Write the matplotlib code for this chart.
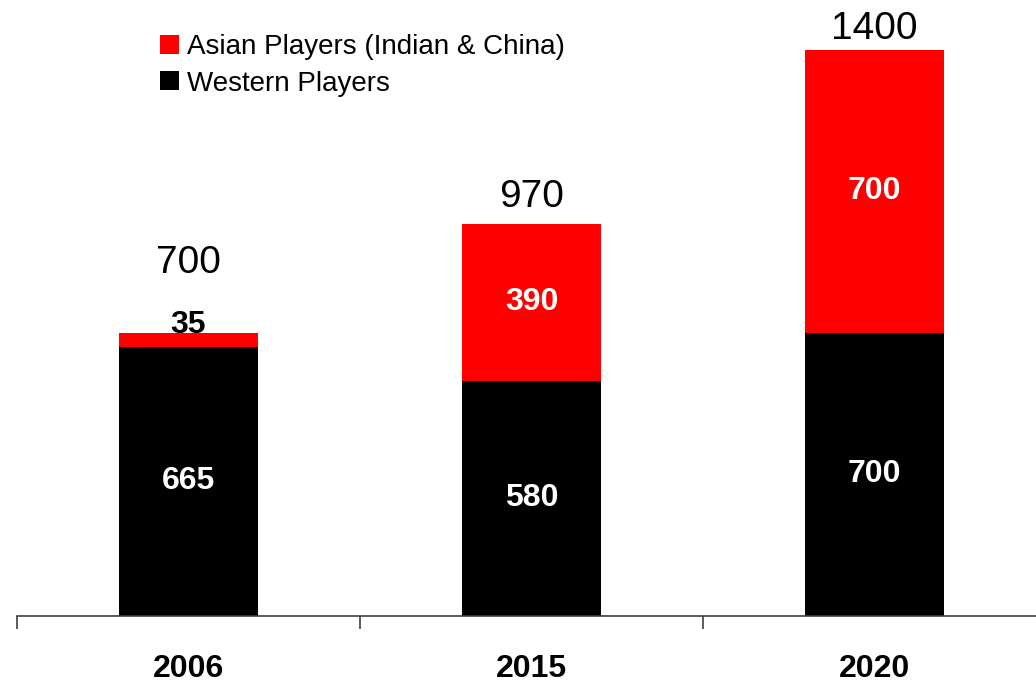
import matplotlib
matplotlib.use("Agg")
import matplotlib.pyplot as plt
from matplotlib.patches import Patch
import numpy as np

years = ["2006", "2015", "2020"]
western = [665, 580, 700]
asian = [35, 390, 700]
totals = [700, 970, 1400]
series_labels = ["Asian Players (Indian & China)", "Western Players"]

RED = "#ff0000"
BLACK = "#000000"
AXIS = "#404040"

plt.rcParams["font.family"] = ["Liberation Sans", "DejaVu Sans"]

fig = plt.figure(figsize=(10.36, 6.83), dpi=100)
ax = fig.add_axes([17 / 1036, 67.5 / 683, 1029 / 1036, 565.5 / 683])

x = np.arange(len(years))
w = 0.405
ax.bar(x, western, w, color=BLACK, zorder=2)
ax.bar(x, asian, w, bottom=western, color=RED, zorder=2)

# segment labels
for xi, wv, av in zip(x, western, asian):
    ax.text(xi, wv / 2, str(wv), ha="center", va="center", color="white",
            fontsize=23, fontweight="bold", zorder=3)
    if av < 100:
        ax.text(xi, wv + av + 20, str(av), ha="center", va="center",
                color="black", fontsize=23, fontweight="bold", zorder=3)
    else:
        ax.text(xi, wv + av / 2, str(av), ha="center", va="center",
                color="white", fontsize=23, fontweight="bold", zorder=3)

# totals above bars
total_offsets = [172, 67, 52]
for xi, t, off in zip(x, totals, total_offsets):
    ax.text(xi, t + off, str(t), ha="center", va="center", color="black",
            fontsize=28, clip_on=False)

ax.set_xlim(-0.5, 2.5)
ax.set_ylim(0, 1400)
for side in ["left", "right", "top"]:
    ax.spines[side].set_visible(False)
ax.spines["bottom"].set_color(AXIS)
ax.spines["bottom"].set_linewidth(1.2)
ax.set_yticks([])

ax.set_xticks(x)
ax.set_xticklabels(years, fontsize=23, fontweight="bold")
ax.tick_params(axis="x", which="major", length=0, pad=27.5)
ax.set_xticks([-0.5, 0.5, 1.5, 2.5], minor=True)
ax.tick_params(axis="x", which="minor", length=9.4, width=1.2, color=AXIS,
               direction="out")

handles = [Patch(facecolor=RED, edgecolor="none"),
           Patch(facecolor=BLACK, edgecolor="none")]
fig.legend(handles, series_labels, loc="upper left",
           bbox_to_anchor=(160 / 1036, 1 - 34 / 683), frameon=False,
           fontsize=20, borderpad=0, borderaxespad=0, handlelength=0.68,
           handleheight=0.68, handletextpad=0.29, labelspacing=0.38)

fig.savefig("out.png", dpi=100, facecolor="white")
